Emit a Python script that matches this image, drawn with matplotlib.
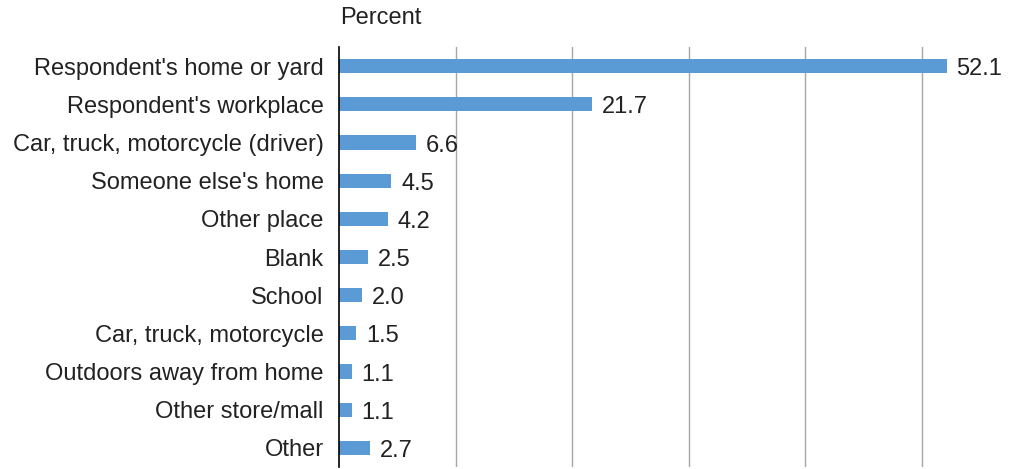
import matplotlib.pyplot as plt

categories = [
    "Respondent's home or yard",
    "Respondent's workplace",
    "Car, truck, motorcycle (driver)",
    "Someone else's home",
    "Other place",
    "Blank",
    "School",
    "Car, truck, motorcycle",
    "Outdoors away from home",
    "Other store/mall",
    "Other",
]
values = [52.1, 21.7, 6.6, 4.5, 4.2, 2.5, 2.0, 1.5, 1.1, 1.1, 2.7]
labels = ["52.1", "21.7", "6.6", "4.5", "4.2", "2.5", "2.0", "1.5", "1.1", "1.1", "2.7"]

plt.rcParams['font.family'] = ['Liberation Sans', 'DejaVu Sans']

fig = plt.figure(figsize=(10.32, 4.69), dpi=100)
ax = fig.add_axes([339 / 1032, 2 / 469, (1027 - 339) / 1032, (467 - 47) / 469])

pos = list(range(len(categories)))
ax.barh(pos, values, height=0.37, color="#5B9BD5", zorder=3)
ax.set_ylim(len(categories) - 0.5, -0.5)
ax.set_xlim(0, 59)

ax.set_xticks([10, 20, 30, 40, 50])
ax.xaxis.grid(True, color="#a6a6a6", linewidth=1.0, zorder=0)
ax.tick_params(axis='x', length=0, labelbottom=False)
ax.tick_params(axis='y', length=0, labelsize=17, pad=11, colors="#222222")
ax.set_yticks(pos)
ax.set_yticklabels(categories)

for s in ["top", "right", "bottom"]:
    ax.spines[s].set_visible(False)
ax.spines["left"].set_color("black")
ax.spines["left"].set_linewidth(1.2)
ax.spines["left"].set_zorder(4)

for p, v, t in zip(pos, values, labels):
    ax.annotate(t, (v, p), xytext=(7.0, -2.2), textcoords="offset points",
                va="center", ha="left", fontsize=17, color="#222222")

fig.text(340 / 1032, 1 - 18 / 469, "Percent", fontsize=17, color="#222222",
         va="center", ha="left")

fig.savefig("out.png", dpi=100)
